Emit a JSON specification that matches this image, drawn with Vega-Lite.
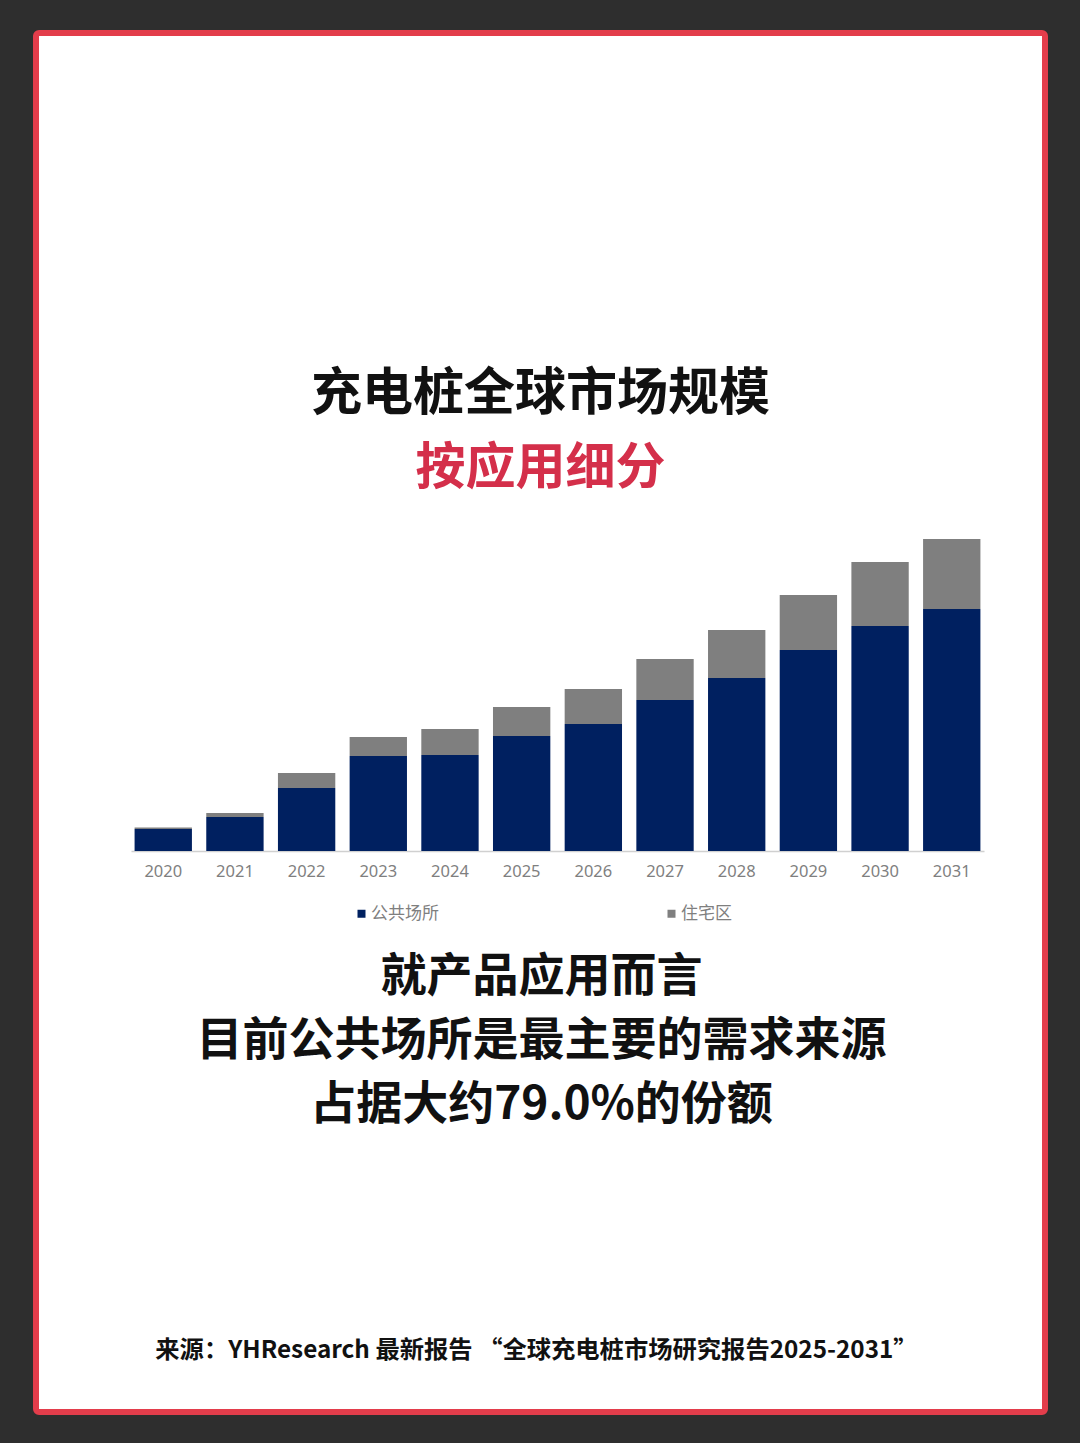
{
  "$schema": "https://vega.github.io/schema/vega-lite/v6.json",
  "width": 1009,
  "height": 1379,
  "autosize": {"type": "none"},
  "padding": {"left": 36, "top": 33, "right": 35, "bottom": 31},
  "background": "#2e2e2e",
  "view": {"fill": "#ffffff", "stroke": "#e33d4b", "strokeWidth": 6, "cornerRadius": 3},
  "title": {
    "text": "充电桩全球市场规模",
    "subtitle": "按应用细分",
    "orient": "top",
    "anchor": "middle",
    "frame": "group",
    "offset": -462,
    "font": "Noto Sans CJK SC",
    "fontSize": 51,
    "fontWeight": "bold",
    "color": "#111111",
    "subtitleFont": "Noto Sans CJK SC",
    "subtitleFontSize": 50,
    "subtitleFontWeight": "bold",
    "subtitleColor": "#d42f4a",
    "subtitlePadding": 23
  },
  "data": {
    "values": [
      {"year": "2020", "segment": "公共场所", "value": 22},
      {"year": "2020", "segment": "住宅区", "value": 1.5},
      {"year": "2021", "segment": "公共场所", "value": 34},
      {"year": "2021", "segment": "住宅区", "value": 4},
      {"year": "2022", "segment": "公共场所", "value": 63},
      {"year": "2022", "segment": "住宅区", "value": 15},
      {"year": "2023", "segment": "公共场所", "value": 95},
      {"year": "2023", "segment": "住宅区", "value": 19},
      {"year": "2024", "segment": "公共场所", "value": 96},
      {"year": "2024", "segment": "住宅区", "value": 26},
      {"year": "2025", "segment": "公共场所", "value": 115},
      {"year": "2025", "segment": "住宅区", "value": 29},
      {"year": "2026", "segment": "公共场所", "value": 127},
      {"year": "2026", "segment": "住宅区", "value": 35},
      {"year": "2027", "segment": "公共场所", "value": 151},
      {"year": "2027", "segment": "住宅区", "value": 41},
      {"year": "2028", "segment": "公共场所", "value": 173},
      {"year": "2028", "segment": "住宅区", "value": 48},
      {"year": "2029", "segment": "公共场所", "value": 201},
      {"year": "2029", "segment": "住宅区", "value": 55},
      {"year": "2030", "segment": "公共场所", "value": 225},
      {"year": "2030", "segment": "住宅区", "value": 64},
      {"year": "2031", "segment": "公共场所", "value": 242},
      {"year": "2031", "segment": "住宅区", "value": 70}
    ]
  },
  "mark": {"type": "bar"},
  "encoding": {
    "x": {
      "field": "year",
      "type": "ordinal",
      "scale": {"range": [95, 948], "paddingInner": 0.2, "paddingOuter": 0.05},
      "axis": {
        "orient": "bottom",
        "offset": -561,
        "domainColor": "#d0d0d0",
        "domainWidth": 1.5,
        "ticks": false,
        "labelAngle": 0,
        "labelFont": "Noto Sans",
        "labelFontSize": 16.5,
        "labelColor": "#7f7f7f",
        "labelPadding": 12,
        "title": ["就产品应用而言", "目前公共场所是最主要的需求来源", "占据大约79.0%的份额"],
        "titleFont": "Noto Sans CJK SC",
        "titleFontSize": 46,
        "titleFontWeight": "bold",
        "titleColor": "#111111",
        "titleLineHeight": 64,
        "titleBaseline": "top",
        "titleAlign": "center",
        "titleX": 505,
        "titleY": 103
      }
    },
    "y": {
      "field": "value",
      "type": "quantitative",
      "stack": "zero",
      "scale": {"domain": [0, 312], "range": [818, 506], "nice": false},
      "axis": {
        "orient": "left",
        "labels": false,
        "ticks": false,
        "domain": false,
        "grid": false,
        "title": "来源：YHResearch 最新报告 “全球充电桩市场研究报告2025-2031”",
        "titleFont": "Noto Sans CJK SC",
        "titleFontSize": 24.3,
        "titleFontWeight": "bold",
        "titleColor": "#111111",
        "titleAngle": 0,
        "titleAlign": "center",
        "titleBaseline": "middle",
        "titleX": 500,
        "titleY": 1317
      }
    },
    "color": {
      "field": "segment",
      "type": "nominal",
      "scale": {"domain": ["公共场所", "住宅区"], "range": ["#002060", "#7f7f7f"]},
      "legend": {
        "orient": "none",
        "legendX": 317,
        "legendY": 872,
        "direction": "horizontal",
        "title": null,
        "symbolType": "square",
        "symbolSize": 64,
        "symbolStrokeWidth": 0,
        "labelFont": "Noto Sans CJK SC",
        "labelFontSize": 17,
        "labelColor": "#7f7f7f",
        "labelOffset": 1,
        "columnPadding": 224
      }
    }
  }
}
